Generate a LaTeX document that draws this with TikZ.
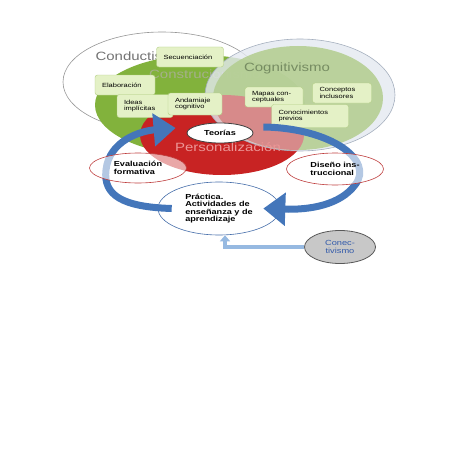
\documentclass[tikz,border=0pt]{standalone}
\usepackage{fontspec}
\setmainfont{Liberation Sans}[FakeStretch=1.25]
\usepackage{tikz}
\usetikzlibrary{shapes.geometric,arrows.meta}

\definecolor{conducline}{RGB}{150,150,150}
\definecolor{construc}{RGB}{130,178,60}
\definecolor{personal}{RGB}{200,35,35}
\definecolor{personalpink}{RGB}{215,138,138}
\definecolor{cognout}{RGB}{228,233,240}
\definecolor{cognline}{RGB}{165,175,190}
\definecolor{cognin}{RGB}{178,205,142}
\definecolor{boxfill}{RGB}{228,241,198}
\definecolor{boxline}{RGB}{178,206,132}
\definecolor{arcblue}{RGB}{68,118,186}
\definecolor{feedblue}{RGB}{150,185,225}
\definecolor{ovalred}{RGB}{190,60,60}
\definecolor{ovalblue}{RGB}{70,110,170}
\definecolor{conecgray}{RGB}{200,200,200}
\definecolor{conectext}{RGB}{50,90,170}

\begin{document}
\begin{tikzpicture}[x=1pt,y=-1pt,
  title/.style={font=\fontsize{12}{12}\selectfont},
  idea/.style={draw=boxline,fill=boxfill,rounded corners=2.5pt,align=left,
    text width=#1,inner xsep=7pt,inner ysep=2pt,minimum height=20pt,
    font=\fontsize{6}{6.5}\selectfont},
  oval/.style={ellipse,draw,inner sep=0pt,align=left,
    font=\bfseries\fontsize{7.3}{7.5}\selectfont},
  bluearc/.style={line width=7pt,draw=arcblue,-{Triangle[length=22pt,width=32pt]}},
  feed/.style={line width=4.5pt,draw=feedblue,-{Triangle[length=6pt,width=10pt]}}]
\useasboundingbox (0,0) rectangle (452,452);

% teorias de fondo
\filldraw[fill=white,draw=conducline,line width=0.6pt] (162,82) ellipse [x radius=99pt,y radius=50pt];
\node[title,text=black!55,anchor=west] (conductismo) at (92,56) {Conductismo};
\fill[construc] (200,105) ellipse [x radius=105pt,y radius=50pt];
\node[title,text={rgb,255:red,165;green,176;blue,138}] (construcionismo) at (205,74) {Construcionismo};
\fill[personal] (222,135) ellipse [x radius=82pt,y radius=40pt];
\filldraw[fill=cognout,draw=cognline,line width=0.6pt,fill opacity=0.8] (300,95) ellipse [x radius=95pt,y radius=56pt];
\fill[cognin,fill opacity=0.85] (298,98) ellipse [x radius=85pt,y radius=52pt];
\begin{scope}
  \clip (298,98) ellipse [x radius=85pt,y radius=52pt];
  \fill[personalpink] (222,135) ellipse [x radius=82pt,y radius=40pt];
\end{scope}
\node[title,text={rgb,255:red,118;green,140;blue,98}] (cognitivismo) at (287,68) {Cognitivismo};
\node[title,text={rgb,255:red,236;green,150;blue,150}] (personalizacion) at (228,147) {Personalización};

% ideas
\node[idea=53pt] (sec) at (190,57) {Secuenciación};
\node[idea=46pt] (elab) at (125,85) {Elaboración};
\node[idea=42pt,minimum height=23pt] (ideas) at (145,106) {Ideas\\implícitas};
\node[idea=40pt,minimum height=22pt] (anda) at (195,104) {Andamiaje\\cognitivo};
\node[idea=44pt] (mapas) at (274,97) {Mapas con-\\ceptuales};
\node[idea=45pt] (conc) at (342,93) {Conceptos\\inclusores};
\node[idea=63pt,minimum height=23pt] (conoc) at (310,116) {Conocimientos\\previos};

% ciclo
\node[oval,fill=white,draw=black!75,line width=0.8pt,minimum width=66pt,minimum height=20pt] (teorias) at (220,133) {Teorías};
\node[oval,fill=white,draw=ovalblue,line width=0.6pt,minimum width=122pt,minimum height=53pt] (practica) at (219,208.5) {Práctica.\\Actividades de\\enseñanza y de\\aprendizaje};

\draw[bluearc] ([xshift=14pt]practica.west) .. controls (122,207) and (103,195) .. (106,170)
  .. controls (109,141) and (140,131) .. ([xshift=-11pt,yshift=5pt]teorias.west);
\draw[bluearc] ([xshift=10pt,yshift=6pt]teorias.east) .. controls (330,128) and (375,160) .. (355,185)
  .. controls (340,205) and (310,210) .. ([xshift=-17pt]practica.east);

\node[oval,fill=white,fill opacity=0.6,text opacity=1,draw=ovalred,line width=0.6pt,minimum width=97pt,minimum height=30pt] (evaluacion) at (138,168) {Evaluación\\formativa};
\node[oval,fill=white,fill opacity=0.6,text opacity=1,draw=ovalred,line width=0.6pt,minimum width=97pt,minimum height=32pt] (diseno) at (335,169) {Diseño ins-\\truccional};

\node[ellipse,draw=black!65,line width=0.8pt,fill=conecgray,text=conectext,align=center,
  minimum width=71pt,minimum height=33pt,inner sep=0pt,font=\fontsize{7.4}{8.8}\selectfont] (conec) at (340,247) {Conec-\\tivismo};
\draw[feed] (conec.west) -| ([xshift=6pt]practica.south);
\end{tikzpicture}
\end{document}
